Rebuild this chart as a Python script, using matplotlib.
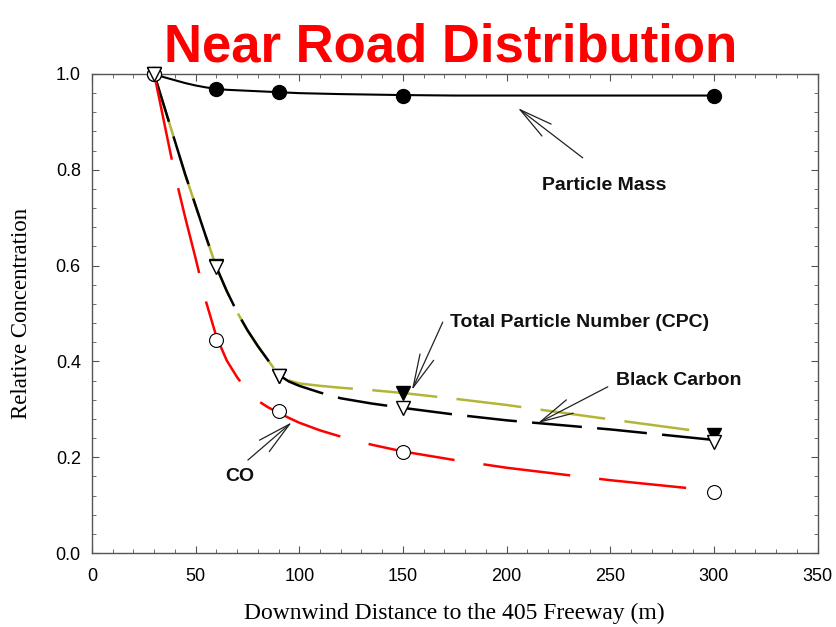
import numpy as np
import matplotlib
matplotlib.use('Agg')
import matplotlib.pyplot as plt
from matplotlib.ticker import MultipleLocator

plt.rcParams['font.family'] = 'Liberation Sans'
plt.rcParams['lines.scale_dashes'] = False

# measured points
x_pts = [30, 60, 90, 150, 300]
mass_pts = [1.0, 0.969, 0.962, 0.955, 0.955]
cpc_pts = [1.0, 0.60, 0.37, 0.335, 0.247]
bc_pts = [1.0, 0.597, 0.37, 0.303, 0.232]
co_pts = [1.0, 0.445, 0.296, 0.21, 0.127]

# fitted curves
x_fit = [30, 35, 40, 45, 50, 55, 60, 65, 70, 75, 80, 85, 90, 95, 100,
         110, 120, 135, 150, 175, 200, 250, 300]
mass_fit = [1.0, 0.993, 0.987, 0.981, 0.976, 0.972, 0.969, 0.967, 0.966, 0.965, 0.964,
            0.963, 0.962, 0.961, 0.960, 0.959, 0.958, 0.957, 0.956, 0.955, 0.955, 0.955, 0.955]
cpc_fit = [1.0, 0.93, 0.86, 0.79, 0.725, 0.66, 0.597, 0.547, 0.503, 0.465, 0.432,
           0.402, 0.372, 0.36, 0.354, 0.349, 0.345, 0.34, 0.334, 0.322, 0.309, 0.279, 0.25]
bc_fit = [1.0, 0.93, 0.86, 0.79, 0.725, 0.66, 0.597, 0.547, 0.503, 0.465, 0.432,
          0.402, 0.372, 0.358, 0.349, 0.335, 0.323, 0.312, 0.303, 0.289, 0.277, 0.258, 0.236]
co_fit = [1.0, 0.895, 0.79, 0.70, 0.615, 0.525, 0.452, 0.402, 0.367, 0.338, 0.318,
          0.304, 0.293, 0.282, 0.272, 0.256, 0.243, 0.226, 0.212, 0.194, 0.178, 0.152, 0.13]

fig = plt.figure(figsize=(8.36, 6.27), dpi=100)
ax = fig.add_axes([0.110, 0.118, 0.868, 0.764])

olive = '#b4b438'
ax.plot(x_fit, cpc_fit, color=olive, lw=1.8, dashes=(47, 14), zorder=2)
ax.plot(x_fit, bc_fit, color='black', lw=1.8, dashes=(36, 11), zorder=3)
ax.plot(x_fit, co_fit, color='red', lw=1.8, dashes=(63, 21), zorder=3)
ax.plot(x_fit, mass_fit, color='black', lw=1.5, zorder=3)

mk = dict(ms=10, ls='none', clip_on=False)
ax.plot(x_pts, mass_pts, 'o', color='black', zorder=4, **mk)
ax.plot(x_pts, cpc_pts, 'v', color='black', zorder=4, **mk)
ax.plot(x_pts, co_pts, 'o', mfc='white', mec='black', mew=0.8, zorder=5, **mk)
ax.plot(x_pts, bc_pts, 'v', mfc='white', mec='black', mew=1, zorder=6, **mk)

ax.set_xlim(0, 350)
ax.set_ylim(0, 1.0)
ax.xaxis.set_major_locator(MultipleLocator(50))
ax.xaxis.set_minor_locator(MultipleLocator(10))
ax.yaxis.set_major_locator(MultipleLocator(0.2))
ax.yaxis.set_minor_locator(MultipleLocator(0.04))
ax.yaxis.set_major_formatter(plt.FormatStrFormatter('%.1f'))
ax.tick_params(which='both', direction='in', top=True, right=True, color='#555555')
ax.tick_params(which='major', length=5, width=0.8, labelsize=13)
ax.tick_params(which='minor', length=3, width=0.6)
ax.tick_params(axis='x', pad=11)
ax.tick_params(axis='y', pad=8)
for s in ax.spines.values():
    s.set_color('#555555')
    s.set_linewidth(1.0)

ax.set_xlabel('Downwind Distance to the 405 Freeway (m)', family='Liberation Serif', fontsize=17)
ax.set_ylabel('Relative Concentration', family='Liberation Serif', fontsize=16.5)
ax.xaxis.set_label_coords(0.5, -0.104)
ax.yaxis.set_label_coords(-0.083, 0.5)

arw = dict(arrowstyle='->,head_length=2.0,head_width=0.45', color='#222222', lw=0.9,
           mutation_scale=12, shrinkA=0, shrinkB=0)
tfont = dict(fontsize=14, fontweight='bold', color='#111111')

ax.text(247, 0.768, 'Particle Mass', ha='center', va='center', **tfont)
ax.annotate('', xy=(205.4, 0.929), xytext=(236.7, 0.825), arrowprops=arw)

ax.text(172.6, 0.482, 'Total Particle Number (CPC)', ha='left', va='center', **tfont)
ax.annotate('', xy=(154.3, 0.340), xytext=(169.2, 0.482), arrowprops=arw)

ax.text(253, 0.361, 'Black Carbon', ha='left', va='center', **tfont)
ax.annotate('', xy=(215, 0.271), xytext=(248.8, 0.347), arrowprops=arw)

ax.text(71.4, 0.159, 'CO', ha='center', va='center', **tfont)
ax.annotate('', xy=(96.4, 0.273), xytext=(75.2, 0.194), arrowprops=arw)

fig.text(451 / 836, 1 - 61 / 627, 'Near Road Distribution', ha='center', va='baseline',
         fontsize=38, fontweight='bold', color='#ff0000')

fig.savefig('out.png', dpi=100)
